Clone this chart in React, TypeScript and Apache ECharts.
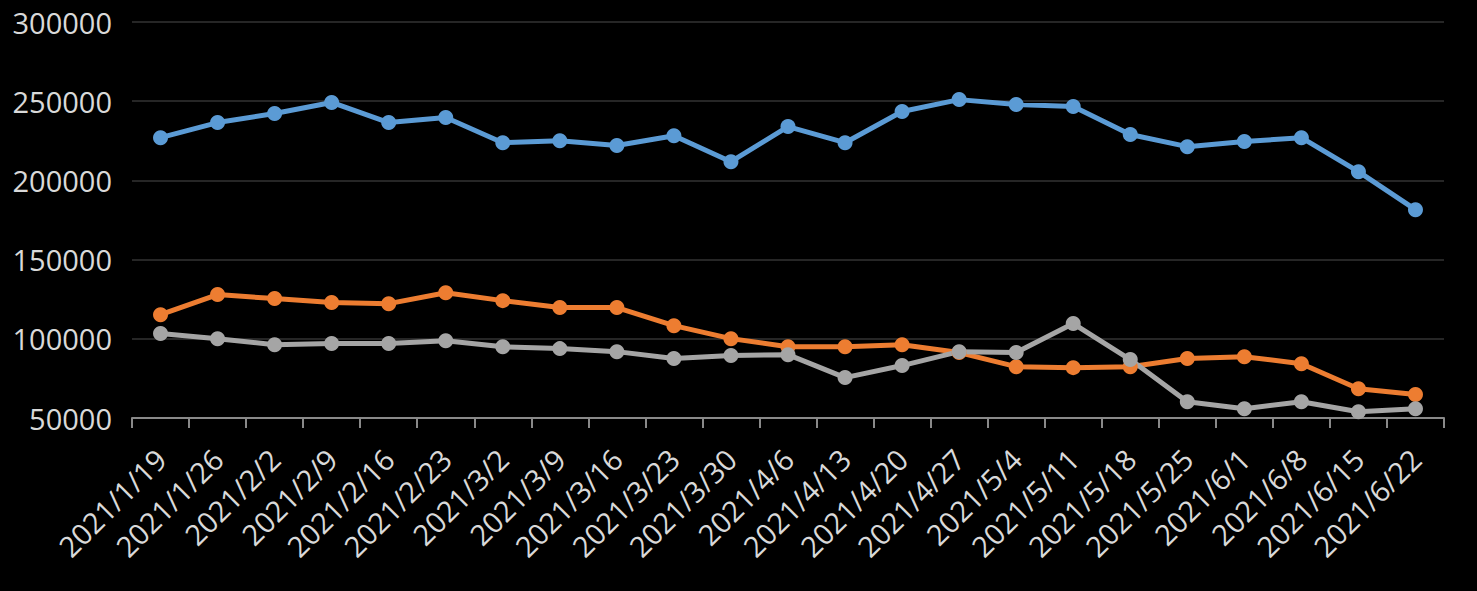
import React, { useEffect, useRef } from "react";
import * as echarts from "echarts";

const categories = [
  "2021/1/19", "2021/1/26", "2021/2/2", "2021/2/9", "2021/2/16", "2021/2/23",
  "2021/3/2", "2021/3/9", "2021/3/16", "2021/3/23", "2021/3/30", "2021/4/6",
  "2021/4/13", "2021/4/20", "2021/4/27", "2021/5/4", "2021/5/11", "2021/5/18",
  "2021/5/25", "2021/6/1", "2021/6/8", "2021/6/15", "2021/6/22",
];

const blueValues = [
  227000, 236500, 242200, 249200, 236500, 239700, 223800, 225000, 222000, 228200,
  211800, 234000, 223800, 243500, 251000, 247900, 246600, 229000, 221300, 224500,
  227000, 205500, 181500,
];

const orangeValues = [
  115200, 127900, 125400, 122900, 122200, 129100, 124100, 119700, 119700, 108300,
  100100, 95000, 95000, 96300, 91300, 82400, 81800, 82400, 87500, 88700,
  84300, 68500, 64800,
];

const grayValues = [
  103300, 100100, 96300, 97000, 97000, 98800, 95000, 93800, 91900, 87500,
  89400, 90000, 75500, 83100, 91900, 91300, 109600, 86900, 60300, 55900,
  60300, 54000, 55900,
];

const yTicks = { min: 50000, max: 300000, interval: 50000 };

const seriesDefs = [
  { name: "blue", data: blueValues, color: "#5B9BD5" },
  { name: "orange", data: orangeValues, color: "#ED7D31" },
  { name: "gray", data: grayValues, color: "#A5A5A5" },
];

export default function App() {
  const ref = useRef<HTMLDivElement>(null);

  useEffect(() => {
    if (!ref.current) return;
    const chart = echarts.init(ref.current, undefined, { renderer: "svg" });
    const font = "'Open Sans', 'Noto Sans', sans-serif";
    chart.setOption({
      animation: false,
      backgroundColor: "#000000",
      grid: { left: 132, right: 33, top: 22, bottom: 173, containLabel: false },
      xAxis: {
        type: "category",
        data: categories,
        boundaryGap: true,
        axisLine: { show: true, lineStyle: { color: "#898989", width: 2 } },
        axisTick: { show: true, length: 10, alignWithLabel: false, lineStyle: { color: "#898989", width: 2 } },
        axisLabel: {
          rotate: 45,
          interval: 0,
          margin: 36,
          color: "#d9d9d9",
          fontSize: 29,
          fontFamily: font,
        },
        splitLine: { show: false },
      },
      yAxis: {
        type: "value",
        min: yTicks.min,
        max: yTicks.max,
        interval: yTicks.interval,
        axisLine: { show: false },
        axisTick: { show: false },
        axisLabel: {
          margin: 20,
          color: "#d9d9d9",
          fontSize: 29,
          fontFamily: font,
          formatter: (v: number) => String(v),
        },
        splitLine: { show: true, lineStyle: { color: "#262626", width: 2 } },
      },
      series: seriesDefs.map((s) => ({
        name: s.name,
        type: "line",
        data: s.data,
        symbol: "circle",
        symbolSize: 15,
        lineStyle: { color: s.color, width: 5 },
        itemStyle: { color: s.color },
        z: 2,
      })),
    });
    return () => chart.dispose();
  }, []);

  return (
    <div
      ref={ref}
      style={{ position: "fixed", left: 0, top: 0, width: 1477, height: 591 }}
    />
  );
}
